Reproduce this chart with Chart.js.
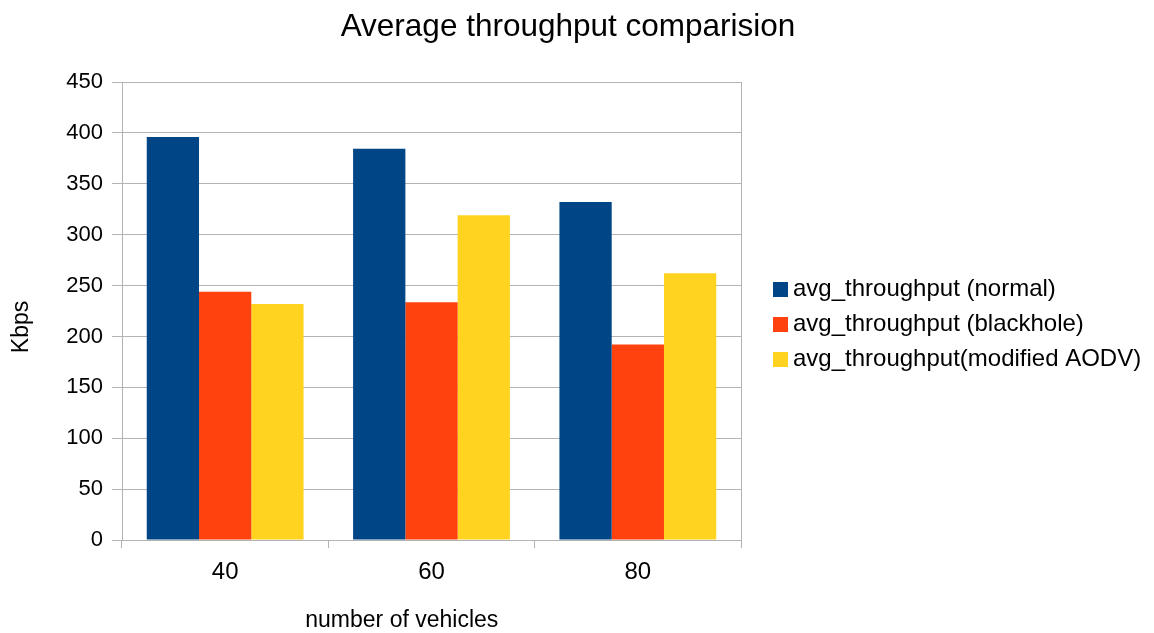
<!DOCTYPE html>
<html>
<head>
<meta charset="utf-8">
<script src="https://cdn.jsdelivr.net/npm/chart.js@4"></script>
<style>
  html, body { margin: 0; padding: 0; background: #fff; }
  #wrap { width: 1154px; height: 633px; }
</style>
</head>
<body>
<div id="wrap"><canvas id="c" width="1154" height="633"></canvas></div>
<script>
const categories = ['40', '60', '80'];
const normal = [396, 384.5, 332];
const blackhole = [244, 233.5, 192];
const modifiedAodv = [232, 319, 262];
const seriesNames = ['avg_throughput (normal)', 'avg_throughput (blackhole)', 'avg_throughput(modified AODV)'];
const yTicks = [0, 50, 100, 150, 200, 250, 300, 350, 400, 450];
const chartTitle = 'Average throughput comparision';
const xTitle = 'number of vehicles';
const yTitle = 'Kbps';

const FONT = '"Liberation Sans", Arial, sans-serif';
const GRID = '#b3b3b3';

// strokes the right edge of the plot frame
const frameEdge = {
  id: 'frameEdge',
  afterDraw(chart) {
    const a = chart.chartArea, ctx = chart.ctx;
    ctx.save();
    ctx.strokeStyle = GRID;
    ctx.lineWidth = 1;
    ctx.beginPath();
    ctx.moveTo(Math.round(a.right) + 0.5, a.top);
    ctx.lineTo(Math.round(a.right) + 0.5, a.bottom + 8);
    ctx.stroke();
    ctx.restore();
  }
};

// page title and the two axis captions
const captions = {
  id: 'captions',
  afterDraw(chart) {
    const ctx = chart.ctx, a = chart.chartArea;
    ctx.save();
    ctx.fillStyle = '#000';
    ctx.textAlign = 'center';
    ctx.textBaseline = 'middle';
    ctx.font = '31.5px ' + FONT;
    ctx.fillText(chartTitle, 568, 27);
    ctx.font = '23px ' + FONT;
    ctx.fillText(xTitle, a.left + (a.right - a.left) * 0.452, 621);
    ctx.translate(22, (a.top + a.bottom) / 2 + 16);
    ctx.rotate(-Math.PI / 2);
    ctx.fillText(yTitle, 0, 0);
    ctx.restore();
  }
};

// vertical legend to the right of the plot, one row per dataset
const sideLegend = {
  id: 'sideLegend',
  afterDraw(chart) {
    const ctx = chart.ctx, a = chart.chartArea;
    const x0 = a.right + 32, box = 15, rowGap = 35.2;
    const n = chart.data.datasets.length;
    const yMid = (a.top + a.bottom) / 2 + 13.5;
    ctx.save();
    ctx.font = '24px ' + FONT;
    ctx.textBaseline = 'middle';
    ctx.textAlign = 'left';
    chart.data.datasets.forEach((ds, i) => {
      const y = yMid + (i - (n - 1) / 2) * rowGap;
      ctx.fillStyle = ds.backgroundColor;
      ctx.fillRect(x0, Math.round(y - box / 2), box, box);
      ctx.fillStyle = '#000';
      ctx.fillText(ds.label, x0 + box + 5, y);
    });
    ctx.restore();
  }
};

new Chart(document.getElementById('c'), {
  type: 'bar',
  data: {
    labels: categories,
    datasets: [
      { label: seriesNames[0], data: normal, backgroundColor: '#004586' },
      { label: seriesNames[1], data: blackhole, backgroundColor: '#ff420e' },
      { label: seriesNames[2], data: modifiedAodv, backgroundColor: '#ffd320' }
    ]
  },
  options: {
    responsive: false,
    animation: false,
    devicePixelRatio: 1,
    layout: { padding: { left: 0, right: 413, top: 82, bottom: 0 } },
    datasets: { bar: { categoryPercentage: 0.76, barPercentage: 1.0, borderWidth: 0 } },
    plugins: {
      title: { display: false },
      legend: { display: false },
      tooltip: { enabled: false }
    },
    scales: {
      x: {
        offset: true,
        afterFit(axis) { axis.height = 93; },
        grid: {
          offset: true,
          drawOnChartArea: false,
          drawTicks: true,
          tickLength: 8,
          color: GRID
        },
        border: { display: true, color: GRID },
        ticks: { color: '#000', font: { family: FONT, size: 24 }, padding: 10 }
      },
      y: {
        min: 0,
        max: 450,
        afterFit(axis) { axis.width = 122; },
        afterBuildTicks(axis) { axis.ticks = yTicks.map(v => ({ value: v })); },
        grid: { color: GRID, tickLength: 10, drawTicks: true },
        border: { display: true, color: GRID },
        ticks: { color: '#000', font: { family: FONT, size: 22 }, padding: 9 }
      }
    }
  },
  plugins: [frameEdge, captions, sideLegend]
});
</script>
</body>
</html>
